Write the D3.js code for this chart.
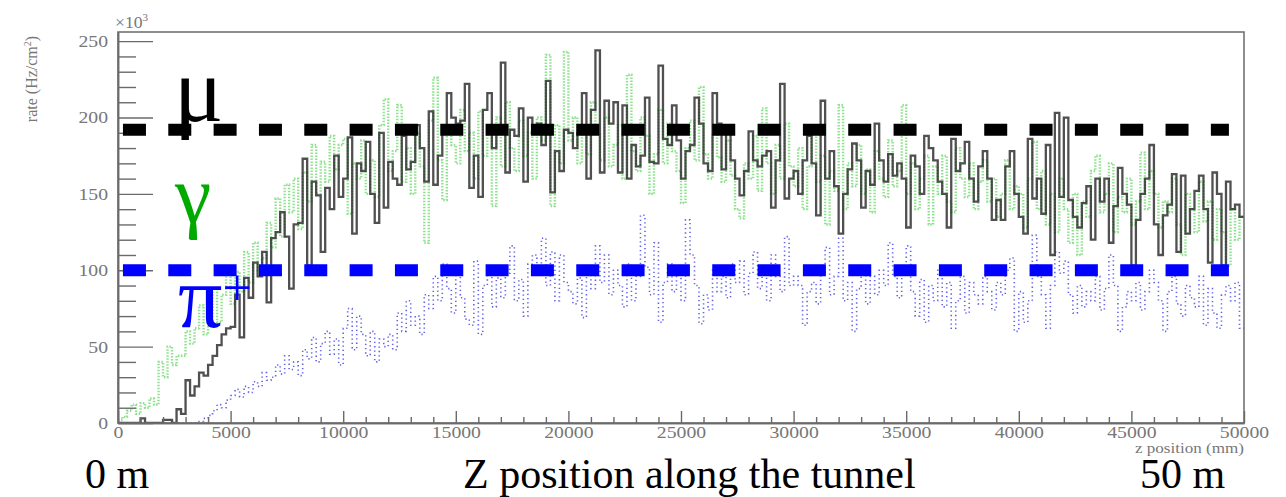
<!DOCTYPE html>
<html>
<head>
<meta charset="utf-8">
<script src="https://cdn.jsdelivr.net/npm/d3@7"></script>
<style>
  body { margin: 0; background: #fff; }
  svg { display: block; }
</style>
</head>
<body>
<svg id="chart" width="1286" height="497"></svg>
<script>
// Rate along the tunnel, in units of 10^3 Hz/cm^2, one value per 200 mm bin (0 - 50 m)
const binWidth = 200; // mm

const muRate = [
  0,0,0,0,0,3,0,0,0,0,2,2,0,9,6,28,18,24,33,31,38,44,51,58,62,63,84,56,95,82,
  105,96,112,79,121,125,138,122,88,130,131,173,103,158,149,112,154,140,175,148,
  160,187,124,170,165,184,150,131,190,141,171,160,156,188,166,171,195,180,158,204,
  156,175,195,216,200,196,198,222,154,175,148,205,216,180,195,236,164,192,188,206,
  158,200,194,196,182,224,151,178,165,192,
  190,180,190,216,160,205,244,164,211,196,210,164,208,160,182,168,175,213,171,170,
  234,186,182,208,185,160,178,182,213,196,170,165,216,196,166,190,172,160,149,165,
  191,172,168,175,178,141,172,222,147,160,
  165,150,172,188,170,136,211,160,178,155,124,150,166,183,172,141,165,156,196,172,
  158,176,162,170,160,128,175,168,150,188,180,172,158,150,128,186,165,170,184,160,
  145,168,178,160,133,146,133,168,178,150,
  135,124,186,147,160,137,182,110,203,148,200,146,135,128,144,155,120,160,145,160,
  118,142,167,150,143,103,133,150,160,182,130,110,136,143,163,112,162,124,140,152,
  162,140,105,164,150,103,158,140,143,135
];

const gammaRate = [
  2,4,8,12,6,13,10,16,12,40,30,50,38,44,44,60,52,62,77,58,70,88,66,84,97,78,99,86,112,92,
  118,100,108,131,115,147,122,156,138,160,127,164,145,182,150,171,158,188,166,182,
  186,137,170,160,185,150,172,148,195,212,165,178,208,158,180,150,190,168,118,198,
  226,172,146,190,182,170,205,178,190,160,204,175,190,142,200,168,210,180,165,198,
  175,190,160,200,185,241,142,195,170,243,
  185,200,170,195,176,210,190,172,200,168,182,195,160,228,178,165,200,188,150,176,
  205,170,196,178,165,144,180,198,172,220,176,160,190,174,158,185,162,140,134,170,
  160,188,152,206,170,150,182,160,196,168,
  155,180,140,168,190,158,175,130,165,152,208,140,170,155,182,150,166,138,178,160,
  148,185,155,165,208,150,170,140,160,175,130,168,150,175,145,138,180,160,148,170,
  140,158,172,145,160,135,150,172,140,155,
  150,128,160,184,140,165,130,150,125,160,140,118,150,110,145,135,165,175,138,150,
  170,125,148,138,160,130,145,177,140,165,150,128,145,138,160,130,110,150,140,125,
  158,132,145,120,140,125,103,140,120,135
];

const piRate = [
  0,0,0,0,0,0,0,0,0,0,0,0,0,0,0,0,0,0,1,3,5,8,12,10,15,18,22,17,24,20,
  27,24,33,28,30,38,32,44,35,40,31,48,42,56,40,52,60,45,55,38,
  62,75,48,70,58,44,60,40,55,50,58,48,72,60,80,64,70,58,84,75,
  96,80,104,88,72,100,82,68,64,106,58,90,100,76,95,82,98,116,80,94,
  70,104,110,98,121,90,112,80,110,92,
  86,78,95,69,100,88,116,92,110,84,100,90,76,104,80,96,136,102,84,118,
  66,92,104,86,98,80,133,110,90,65,84,74,100,86,96,82,104,92,106,84,
  98,112,88,102,80,110,96,86,122,90,
  96,90,64,86,92,78,98,115,84,96,121,80,92,60,88,100,78,96,84,100,
  90,118,96,82,100,116,86,70,94,66,90,80,100,76,92,62,80,96,72,92,
  84,78,96,86,74,92,84,100,108,60,
  86,66,80,123,96,84,62,90,112,98,106,84,72,90,76,86,80,96,74,88,
  110,90,60,76,86,80,92,74,86,100,92,80,60,86,96,78,70,90,82,76,
  96,64,88,72,62,84,90,80,92,62
];

// Reference levels (10^3 Hz/cm^2) and the stretch of tunnel they cover (mm)
const muLevel = 192;
const piLevel = 100;
const levelSpan = [220, 49330];

const yTicks = [0, 50, 100, 150, 200, 250];
const xTicks = [0, 5000, 10000, 15000, 20000, 25000, 30000, 35000, 40000, 45000, 50000];
const particleNames = ["\u03bc", "\u03b3", "\u03c0"];

// ---------------------------------------------------------------------------
const svg = d3.select("#chart");
const plotL = 118, plotR = 1244, plotT = 32, plotB = 423;
const x = d3.scaleLinear().domain([0, 50000]).range([plotL, plotR]);
const y = d3.scaleLinear().domain([0, 256]).range([plotB, plotT]);

const serif = "'Liberation Serif', 'Times New Roman', serif";
const axisGrey = "#6a6a6a";
const labelGrey = "#777";

svg.append("rect").attr("width", 1286).attr("height", 497).attr("fill", "#fff");

svg.append("defs").append("clipPath").attr("id", "plotArea")
  .append("rect").attr("x", plotL).attr("y", plotT)
  .attr("width", plotR - plotL).attr("height", plotB - plotT);

// histogram outline as a step line
const toSteps = vals => {
  const pts = vals.map((v, i) => [i * binWidth, v]);
  pts.push([vals.length * binWidth, vals[vals.length - 1]]);
  return pts;
};
const stepLine = d3.line()
  .x(d => x(d[0])).y(d => y(d[1]))
  .curve(d3.curveStepAfter);

const plot = svg.append("g").attr("clip-path", "url(#plotArea)");

plot.append("path")
  .datum(toSteps(gammaRate))
  .attr("d", stepLine)
  .attr("fill", "none")
  .attr("stroke", "#8ee28e")
  .attr("stroke-width", 2.4)
  .attr("stroke-dasharray", "1.5,1.5");

plot.append("path")
  .datum(toSteps(piRate))
  .attr("d", stepLine)
  .attr("fill", "none")
  .attr("stroke", "#4848e0")
  .attr("stroke-width", 1.6)
  .attr("stroke-dasharray", "1.3,3")
  .attr("opacity", 0.85);

plot.append("path")
  .datum(toSteps(muRate))
  .attr("d", stepLine)
  .attr("fill", "none")
  .attr("stroke", "#2a2a2a")
  .attr("stroke-width", 2.3)
  .attr("opacity", 0.82);

// frame
svg.append("rect")
  .attr("x", plotL).attr("y", plotT)
  .attr("width", plotR - plotL).attr("height", plotB - plotT)
  .attr("fill", "none").attr("stroke", axisGrey).attr("stroke-width", 1.5);

// y axis: ticks drawn inward
const yMinor = d3.range(0, 256, 10).filter(v => v % 50 !== 0);
const yAxisMinor = svg.append("g").attr("transform", `translate(${plotL},0)`)
  .call(d3.axisLeft(y).tickValues(yMinor).tickSizeInner(-18).tickSizeOuter(0).tickFormat(""));
const yAxis = svg.append("g").attr("transform", `translate(${plotL},0)`)
  .call(d3.axisLeft(y).tickValues(yTicks).tickSizeInner(-35).tickSizeOuter(0).tickPadding(10)
    .tickFormat(d3.format("d")));

// x axis
const xMinor = d3.range(0, 50001, 1000).filter(v => v % 5000 !== 0);
const xAxisMinor = svg.append("g").attr("transform", `translate(0,${plotB})`)
  .call(d3.axisBottom(x).tickValues(xMinor).tickSizeInner(-6).tickSizeOuter(0).tickFormat(""));
const xAxis = svg.append("g").attr("transform", `translate(0,${plotB})`)
  .call(d3.axisBottom(x).tickValues(xTicks).tickSizeInner(-12).tickSizeOuter(0).tickPadding(3)
    .tickFormat(d3.format("d")));

[yAxisMinor, yAxis, xAxisMinor, xAxis].forEach(g => {
  g.select(".domain").attr("stroke", axisGrey).attr("stroke-width", 1.5);
  g.selectAll(".tick line").attr("stroke", axisGrey).attr("stroke-width", 1.4);
  g.selectAll("text").attr("fill", labelGrey)
    .attr("font-family", serif).attr("font-size", 17);
});
const stretch = 1.16;
yAxis.selectAll("text").attr("x", -10 / stretch).attr("transform", `scale(${stretch},1)`);
xAxis.selectAll("text").attr("transform", `scale(${stretch},1)`)
  .attr("x", 0);

// exponent and axis titles
const expo = svg.append("text")
  .attr("transform", "translate(115,28) scale(1.1,1)")
  .attr("font-family", serif).attr("font-size", 16).attr("fill", labelGrey);
expo.append("tspan").text("\u00d710");
expo.append("tspan").attr("dy", -7).attr("font-size", 10).text("3");

const yTitle = svg.append("text")
  .attr("transform", "translate(37,79) rotate(-90)")
  .attr("text-anchor", "middle")
  .attr("font-family", serif).attr("font-size", 16).attr("fill", labelGrey);
yTitle.append("tspan").text("rate (Hz/cm");
yTitle.append("tspan").attr("dy", -6).attr("font-size", 10).text("2");
yTitle.append("tspan").attr("dy", 6).text(")");

svg.append("text")
  .attr("transform", `translate(${plotR},453) scale(1.22,1)`)
  .attr("text-anchor", "end")
  .attr("font-family", serif).attr("font-size", 14).attr("fill", labelGrey)
  .text("z position (mm)");

// reference levels
const levels = [
  { v: muLevel, color: "#000" },
  { v: piLevel, color: "#0000ff" }
];
svg.selectAll("line.level").data(levels).join("line")
  .attr("class", "level")
  .attr("x1", x(levelSpan[0])).attr("x2", x(levelSpan[1]))
  .attr("y1", d => y(d.v)).attr("y2", d => y(d.v))
  .attr("stroke", d => d.color)
  .attr("stroke-width", 12)
  .attr("stroke-dasharray", "23,22.33");

// particle labels
svg.append("text").attr("x", 174).attr("y", 121)
  .attr("font-family", serif).attr("font-size", 92).attr("fill", "#000")
  .text(particleNames[0]);
svg.append("text").attr("x", 175).attr("y", 222)
  .attr("font-family", serif).attr("font-size", 82).attr("fill", "#00aa00")
  .text(particleNames[1]);
const piLabel = svg.append("text").attr("x", 178).attr("y", 327)
  .attr("font-family", serif).attr("font-size", 88).attr("fill", "#0000ff");
piLabel.append("tspan").text(particleNames[2]);
piLabel.append("tspan").attr("font-size", 52).attr("dy", -22).text("+");

// tunnel annotation
const big = { "font-family": serif, "font-size": 42, fill: "#000" };
[["0 m", 85, 488], ["Z position along the tunnel", 463, 488], ["50 m", 1140, 488]].forEach(([t, px, py]) => {
  const el = svg.append("text").attr("x", px).attr("y", py).text(t);
  Object.entries(big).forEach(([k, v]) => el.attr(k, v));
});
</script>
</body>
</html>
